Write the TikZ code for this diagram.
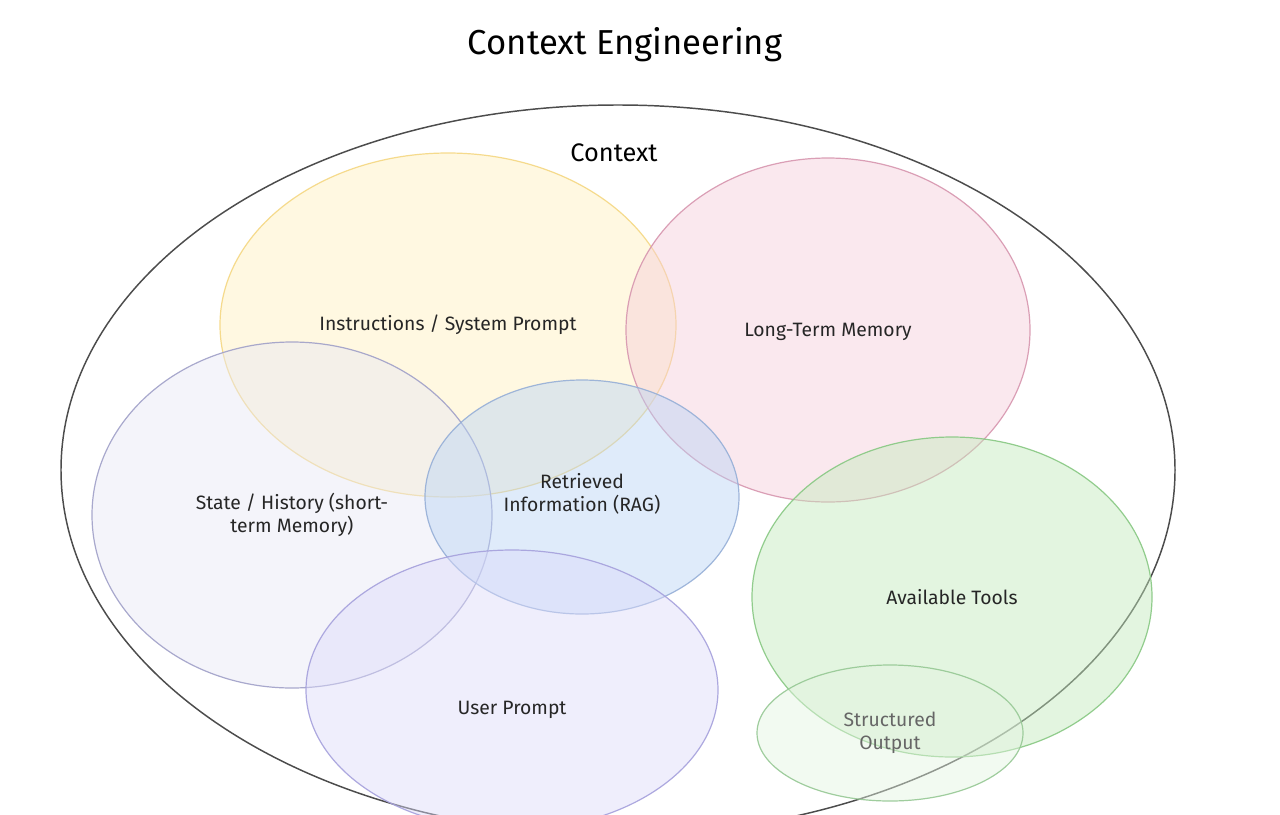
\documentclass[tikz,border=0pt]{standalone}
\usepackage{fontspec}
\setmainfont{Fira Sans}
\begin{document}
\begin{tikzpicture}[x=0.75pt,y=-0.75pt,
  blob/.style={line width=0.9pt,fill opacity=0.45,draw opacity=0.9},
  lbl/.style={font=\fontsize{14.5}{17}\selectfont,text=black!85,align=center}]
\useasboundingbox (0,0) rectangle (1280,814);
\fill[white] (0,0) rectangle (1280,814);
\begin{scope}
\clip (0,0) rectangle (1280,814);
\draw[line width=1.1pt,draw=black!70] (618,470) ellipse [x radius=557, y radius=365];
\path[blob,fill={rgb,255:red,255;green,240;blue,190},draw={rgb,255:red,245;green,215;blue,130}] (448,325) ellipse [x radius=228, y radius=172];
\path[blob,fill={rgb,255:red,246;green,205;blue,218},draw={rgb,255:red,215;green,150;blue,175}] (828,330) ellipse [x radius=202, y radius=172];
\path[blob,fill={rgb,255:red,232;green,232;blue,244},draw={rgb,255:red,160;green,160;blue,200}] (292,515) ellipse [x radius=200, y radius=173];
\path[blob,fill={rgb,255:red,185;green,212;blue,245},draw={rgb,255:red,150;green,175;blue,215}] (582,497) ellipse [x radius=157, y radius=117];
\path[blob,fill={rgb,255:red,220;green,218;blue,250},draw={rgb,255:red,165;green,160;blue,220}] (512,690) ellipse [x radius=206, y radius=140];
\path[blob,fill={rgb,255:red,195;green,235;blue,188},draw={rgb,255:red,135;green,200;blue,130}] (952,597) ellipse [x radius=200, y radius=160];
\path[blob,fill={rgb,255:red,228;green,244;blue,225},draw={rgb,255:red,150;green,200;blue,148}] (890,733) ellipse [x radius=133, y radius=68];
\end{scope}
\node (title) at (625,45) {\fontsize{26}{30}\selectfont Context Engineering};
\node (ctx) at (614,153) {\fontsize{19}{22}\selectfont Context};
\node[lbl] (instr) at (448,325) {Instructions / System Prompt};
\node[lbl] (ltm) at (828,332) {Long-Term Memory};
\node[lbl] (state) at (292,515) {State / History (short-\\term Memory)};
\node[lbl] (rag) at (582,494) {Retrieved\\Information (RAG)};
\node[lbl] (user) at (512,710) {User Prompt};
\node[lbl] (tools) at (952,597) {Available Tools};
\node[lbl,text=black!60] (so) at (890,733) {Structured\\Output};
\end{tikzpicture}
\end{document}
